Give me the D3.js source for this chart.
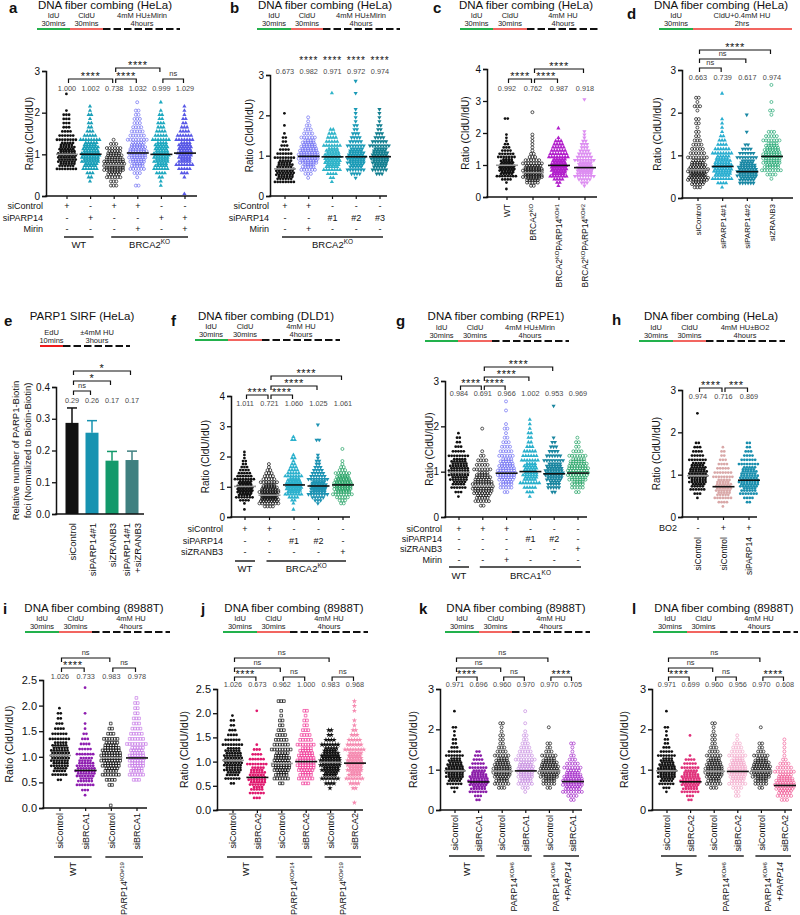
<!DOCTYPE html>
<html><head><meta charset="utf-8">
<script src="https://cdnjs.cloudflare.com/ajax/libs/d3/7.8.5/d3.min.js"></script>
<style>body{margin:0;background:#fff}svg{display:block;font-family:"Liberation Sans",Arial,sans-serif}</style>
</head><body><svg id="fig" width="800" height="915"></svg>
<script>
// ================= DATA =================
const BIN = 0.1; // bin width of the count arrays (ratio units)
// ---- panel a ----
const aMeans = [1.000, 1.002, 0.738, 1.032, 0.999, 1.029];
const aStarts = [0.6, 0.3, 0.2, 0.2, 0.2, 0.0];
const aCounts = [
  [8,12,14,14,13,12,10,8,6,4,3,3,3,3,1,0,0,0,1],
  [1,2,3,6,10,13,14,13,12,10,8,5,3,2,2,1,2,1,1],
  [3,3,6,10,15,16,15,12,10,6,3,1],
  [2,0,1,3,6,9,11,13,14,12,10,8,6,5,4,3,3,2,2,0,1],
  [1,1,2,4,6,9,11,12,11,10,9,7,5,4,3,3,2,2,1,0,1],
  [1,0,0,0,1,3,5,7,9,10,11,10,9,7,6,4,3,2,2,1,1,1]];
const aRowLabels = ["siControl", "siPARP14", "Mirin"];
const aRows = [["+","-","+","+","-","-"],["-","+","-","-","+","+"],["-","-","-","+","-","+"]];
// ---- panel b ----
const bMeans = [0.673, 0.982, 0.971, 0.972, 0.974];
const bStarts = [0.3, 0.4, 0.3, 0.4, 0.5];
const bCounts = [
  [8,12,14,14,12,10,8,6,4,3,2,2,1,0,1,0,0,1],
  [1,3,6,9,13,15,15,13,11,9,6,4,3,2,1,1],
  [1,2,4,7,10,12,12,11,9,7,5,4,3,2,0,0,0,0,0,0,0,0,1],
  [1,4,7,10,13,14,12,10,7,5,4,3,2,2,1,1,1,1,0,0,0,1,0,0,1],
  [3,6,10,12,13,12,10,8,6,4,3,2,2,1,1,1,1]];
const bSig = ["", "****", "****", "****", "****"];
const bRowLabels = ["siControl", "siPARP14", "Mirin"];
const bRows = [["+","+","-","-","-"],["-","-","#1","#2","#3"],["-","+","-","-","-"]];
// ---- panel c ----
const cCategories = ["WT", "BRCA2^KO", "BRCA2^KO^PARP14^KO#1", "BRCA2^KO^PARP14^KO#2"];
const cMeans = [0.992, 0.762, 0.987, 0.918];
const cStarts = [0.2, 0.3, 0.3, 0.3];
const cCounts = [
  [1,0,1,4,8,10,12,12,10,9,7,6,4,3,2,1,1,1,0,0,0,0,2],
  [2,5,10,15,18,15,12,8,6,3,2,1,1,1,1,1,1,0,0,0,0,0,0,1],
  [1,2,4,7,10,12,12,11,10,8,7,6,5,4,3,1,0,0,1],
  [1,3,5,8,11,12,11,10,8,6,5,4,3,3,2,1,1,1,0,0,0,0,0,0,0,0,0,1]];
// ---- panel d ----
const dCategories = ["siControl", "siPARP14#1", "siPARP14#2", "siZRANB3"];
const dMeans = [0.663, 0.739, 0.617, 0.974];
const dStarts = [0.2, 0.2, 0.3, 0.4];
const dCounts = [
  [3,10,16,18,16,12,10,8,6,5,4,3,2,2,1,2,2,0,1,3,1,2],
  [1,4,8,12,14,14,12,10,8,6,4,3,2,1,1,1,1,0,0,0,0,0,1],
  [6,12,15,15,13,10,8,6,4,2,0,0,1,0,0,0,1],
  [1,4,8,11,13,14,13,11,9,7,5,3,0,0,0,1,2,0,1,0,0,0,1]];
// ---- panel e ----
const eCategories = ["siControl", "siPARP14#1", "siZRANB3", "siPARP14#1|+siZRANB3"];
const eValues = [0.287, 0.256, 0.168, 0.170];
const eErrors = [0.047, 0.038, 0.029, 0.028];
const eTicks = [0, 0.1, 0.2, 0.3, 0.4];
// ---- panel f ----
const fMeans = [1.011, 0.721, 1.060, 1.025, 1.061];
const fStarts = [0.2, 0.3, 0.2, 0.4, 0.4];
const fCounts = [
  [1,0,1,4,7,10,12,12,11,10,8,6,5,4,3,2,2,1,1,1],
  [4,8,14,18,18,15,12,9,7,5,4,3,2,1,1],
  [1,0,1,2,4,7,10,12,12,11,9,7,5,4,3,2,1,2,1,0,0,0,0,2,1],
  [1,3,5,8,11,12,12,10,8,6,5,4,3,2,2,1,1,0,0,0,0,2,0,0,0,0,1],
  [2,3,5,8,11,13,14,13,11,9,6,3,2,1,1,0,0,0,1]];
const fRowLabels = ["siControl", "siPARP14", "siZRANB3"];
const fRows = [["+","+","-","-","-"],["-","-","#1","#2","-"],["-","-","-","-","+"]];
// ---- panel g ----
const gMeans = [0.984, 0.691, 0.966, 1.002, 0.953, 0.969];
const gStarts = [0.4, 0.2, 0.5, 0.4, 0.5, 0.5];
const gCounts = [
  [1,3,6,10,13,15,15,13,11,8,5,3,2,2,1],
  [2,6,10,14,16,15,12,9,7,5,4,2,1,0,0,0,0,1],
  [2,5,9,12,14,13,11,9,6,5,4,3,2,1,2,1,0,0,1,0,1],
  [1,3,5,8,10,11,10,9,7,6,5,3,2,2,2,1,1,1],
  [2,5,9,12,14,13,11,8,6,4,3,2,1,0,0,0,0,0,0,1],
  [2,5,9,13,16,16,14,11,7,4,2,2,1]];
const gRowLabels = ["siControl", "siPARP14", "siZRANB3", "Mirin"];
const gRows = [["+","+","+","-","-","-"],["-","-","-","#1","#2","-"],["-","-","-","-","-","+"],["-","-","+","-","-","-"]];
// ---- panel h ----
const hCategories = ["siControl", "siControl", "siPARP14"];
const hMeans = [0.974, 0.716, 0.869];
const hStarts = [0.4, 0.2, 0.3];
const hCounts = [
  [1,3,6,10,13,14,14,12,10,7,5,4,3,2,0,0,0,0,0,0,1],
  [1,4,7,10,12,12,10,8,7,5,4,3,2,2,1],
  [2,4,7,11,14,15,14,12,10,8,6,4,3,2,2]];
const hRowLabels = ["BO2"];
const hRows = [["-","+","+"]];
// ---- panel i ----
const iCategories = ["siControl", "siBRCA1", "siControl", "siBRCA1"];
const iMeans = [1.026, 0.733, 0.983, 0.978];
const iStarts = [0.5, 0.2, 0.0, 0.5];
const iCounts = [
  [2,6,10,13,14,14,13,11,8,6,4,3,2,2,1],
  [1,3,7,11,14,15,13,10,7,5,4,3,2,1,1,0,1,0,0,0,0,1],
  [1,0,0,0,2,4,7,10,13,15,15,13,10,6,3,2,1],
  [3,6,9,11,12,11,10,8,6,5,4,3,3,2,2,2,1]];
// ---- panel j ----
const jCategories = ["siControl", "siBRCA2", "siControl", "siBRCA2", "siControl", "siBRCA2"];
const jMeans = [1.026, 0.673, 0.962, 1.000, 0.983, 0.968];
const jStarts = [0.5, 0.2, 0.5, 0.5, 0.4, 0.1];
const jCounts = [
  [2,6,10,13,14,14,13,11,8,6,4,3,2,2,1],
  [3,6,9,12,13,12,10,8,6,4,3,1,0,0,0,0,0,0,1],
  [2,6,9,12,13,12,10,8,6,5,4,3,2,2,1,1,0,3],
  [3,6,9,12,13,13,11,9,7,5,4,3,2,2,1,2],
  [1,4,7,10,13,15,15,13,10,7,4,2,2],
  [1,0,0,2,4,7,9,11,12,11,10,8,6,5,3,2,1,1,0,1,1,1]];
// ---- panel k ----
const kCategories = ["siControl", "siBRCA1", "siControl", "siBRCA1", "siControl", "siBRCA1"];
const kMeans = [0.971, 0.696, 0.960, 0.970, 0.970, 0.705];
const kStarts = [0.4, 0.2, 0.5, 0.4, 0.5, 0.2];
const kCounts = [
  [1,3,6,10,13,14,13,11,9,7,5,3,2,2,1,1,2,0,0,0,1],
  [2,3,7,11,14,15,13,10,7,5,4,3,2],
  [3,6,9,12,13,13,11,9,6,4,3,2,2,2,1,1,2],
  [1,3,6,9,11,12,12,10,8,6,5,4,3,2,2,1,0,1,0,0,1],
  [2,5,9,13,15,14,12,9,6,3,2,2,0,0,0,1],
  [2,4,8,12,15,15,13,10,7,5,3,2,1,1,2]];
// ---- panel l ----
const lCategories = ["siControl", "siBRCA2", "siControl", "siBRCA2", "siControl", "siBRCA2"];
const lMeans = [0.971, 0.699, 0.960, 0.956, 0.970, 0.608];
const lStarts = [0.4, 0.2, 0.5, 0.3, 0.5, 0.2];
const lCounts = [
  [1,3,6,10,13,14,13,11,9,7,5,3,2,2,1,1,2,0,0,0,1],
  [2,3,7,11,14,15,13,10,7,5,4,1,0,0,0,0,1],
  [3,6,9,12,13,13,11,9,6,4,3,2,2,2,1,1,2],
  [2,2,4,7,10,12,13,13,11,9,7,5,4,3,1,1],
  [2,5,9,13,15,14,12,9,6,3,2,2,0,0,0,1],
  [3,6,10,14,15,13,10,8,6,4,2,1,1,1,1,1]];

// ================= DRAWING =================
const svg = d3.select("#fig");
const INK = "#111";

function rich(sel, str, fs) {
  let sup = false, it = false, buf = "";
  const parts = [];
  for (const ch of str) {
    if (ch === "^" || ch === "_") {
      if (buf) parts.push({t: buf, sup, it});
      buf = "";
      if (ch === "^") sup = !sup; else it = !it;
    } else buf += ch;
  }
  if (buf) parts.push({t: buf, sup, it});
  let cur = false;
  parts.forEach(p => {
    const ts = sel.append("tspan").text(p.t);
    if (p.sup !== cur) { ts.attr("dy", p.sup ? -fs * 0.38 : fs * 0.38); cur = p.sup; }
    if (p.sup) ts.attr("font-size", fs * 0.68);
    if (p.it) ts.attr("font-style", "italic");
  });
}
function text(g, x, y, str, fs, o = {}) {
  const t = g.append("text").attr("x", x).attr("y", y).attr("font-size", fs)
    .attr("text-anchor", o.anchor || "middle").attr("fill", o.fill || INK);
  if (o.rotate) t.attr("transform", `rotate(${o.rotate},${x},${y})`);
  if (o.weight) t.attr("font-weight", o.weight);
  if (o.ls) t.attr("letter-spacing", o.ls);
  rich(t, str, fs);
  return t;
}

const SYM = {
  c: {type: d3.symbolCircle, size: 6, fill: true},
  o: {type: d3.symbolCircle, size: 7, fill: false},
  t: {type: d3.symbolTriangle, size: 7.5, fill: true},
  v: {type: d3.symbolTriangle, size: 7.5, fill: true, rot: 180},
  s: {type: d3.symbolSquare, size: 7, fill: false},
  x: {type: d3.symbolStar, size: 9, fill: true}
};
function swarm(g, cx, y, start, counts, shape, color) {
  const S = SYM[shape];
  const d = d3.symbol().type(S.type).size(S.size)();
  const perRow = 8, sp = 2.7;
  counts.forEach((n, i) => {
    if (!n) return;
    const lo = start + i * BIN;
    const rows = Math.ceil(n / perRow);
    let left = n;
    for (let r = 0; r < rows; r++) {
      const m = Math.ceil(left / (rows - r));
      left -= m;
      const yy = y(lo + BIN * (r + 0.5) / rows);
      for (let k = 0; k < m; k++) {
        const xx = cx + (k - (m - 1) / 2) * sp + (r % 2 ? 0.6 : -0.6);
        g.append("path").attr("d", d)
          .attr("transform", `translate(${xx.toFixed(2)},${yy.toFixed(2)})${S.rot ? " rotate(180)" : ""}`)
          .attr("fill", S.fill ? color : "none")
          .attr("stroke", S.fill ? "none" : color).attr("stroke-width", 0.7);
      }
    }
  });
}
function bracket(g, x1, x2, yb, label) {
  g.append("path").attr("d", `M${x1 + 1.5},${yb + 4}V${yb}H${x2 - 1.5}V${yb + 4}`)
    .attr("fill", "none").attr("stroke", INK).attr("stroke-width", 1.2);
  const mid = (x1 + x2) / 2;
  if (label.startsWith("*")) text(g, mid, yb + 0.5, label, 11, {ls: 0.6});
  else text(g, mid, yb - 3, label, 7.5, {fill: "#333"});
}
function header(H) {
  const g = svg.append("g");
  text(g, H.lx, H.ly, H.letter, 15, {weight: "bold", anchor: "start"});
  text(g, H.tx, H.ty, H.title, 11.5);
  H.segs.forEach(s => {
    g.append("line").attr("x1", s[0]).attr("x2", s[1]).attr("y1", H.sy).attr("y2", H.sy)
      .attr("stroke", s[2]).attr("stroke-width", 2)
      .attr("stroke-dasharray", s[3] ? "7.5,3" : null);
  });
  H.labels.forEach(l => {
    text(g, l[0], H.sy - 11, l[1], 7.5, {fill: "#222"});
    text(g, l[0], H.sy - 3.5, l[2], 7.5, {fill: "#222"});
  });
}
function yAxis(g, P, y) {
  const ax = g.append("g").attr("transform", `translate(${P.axisX},0)`)
    .call(d3.axisLeft(y).tickValues(P.ticks).tickFormat(d3.format(P.fmt)).tickSizeOuter(0).tickSize(4));
  ax.attr("font-size", P.tickFs).attr("font-family", '"Liberation Sans",Arial,sans-serif');
  ax.select(".domain").attr("stroke-width", 1.5).attr("stroke", INK);
  ax.selectAll(".tick line").attr("stroke-width", 1.3).attr("stroke", INK);
  ax.selectAll(".tick text").attr("x", -6).attr("fill", INK);
  g.append("line").attr("x1", P.axisX - 0.75).attr("x2", P.axisEnd).attr("y1", P.y0).attr("y2", P.y0)
    .attr("stroke", INK).attr("stroke-width", 1.5);
  const lines = P.ytitle.split("|");
  lines.forEach((ln, k) => {
    const xx = P.ytx + k * 12 + 3.4;
    text(g, xx, (P.y0 + P.yTop) / 2, ln, P.ytFs || 10, {rotate: -90});
  });
}
function dotPanel(P) {
  header(P.H);
  const g = svg.append("g");
  const y = d3.scaleLinear().domain([0, P.yMax]).range([P.y0, P.yTop]);
  const x = d3.scalePoint().domain(d3.range(P.means.length)).range(P.gx);
  yAxis(g, P, y);
  P.means.forEach((m, i) => {
    g.append("line").attr("x1", x(i)).attr("x2", x(i)).attr("y1", P.y0).attr("y2", P.y0 + 3)
      .attr("stroke", INK).attr("stroke-width", 1.2);
    swarm(g, x(i), y, P.starts[i], P.counts[i], P.shapes[i], P.colors[i]);
  });
  P.means.forEach((m, i) => {
    g.append("line").attr("x1", x(i) - 11).attr("x2", x(i) + 11).attr("y1", y(m)).attr("y2", y(m))
      .attr("stroke", P.colors[i] === INK ? "#9a9a9a" : INK).attr("stroke-width", 1.6);
    text(g, x(i), P.meanY, d3.format(".3f")(m), 7.3, {fill: "#4a4a4a"});
  });
  (P.brackets || []).forEach(b => bracket(g, x(b[0]), x(b[1]), b[2], b[3]));
  (P.sig || []).forEach((s, i) => { if (s) text(g, x(i), P.sigY, s, 10, {ls: 0.8}); });
  if (P.rows) {
    P.rows.forEach((r, k) => {
      const yy = P.rowY[k];
      text(g, P.rowLabelX, yy, P.rowLabels[k], 9, {anchor: "end"});
      r.forEach((v, i) => text(g, x(i), yy, v, 9));
    });
  }
  if (P.groups) {
    P.groups.forEach(gr => {
      const pad = gr[0] === gr[1] ? 10 : 3;
      g.append("line").attr("x1", x(gr[0]) - pad).attr("x2", x(gr[1]) + pad)
        .attr("y1", P.groupLineY).attr("y2", P.groupLineY).attr("stroke", "#222").attr("stroke-width", 1.5);
      text(g, (x(gr[0]) + x(gr[1])) / 2, P.groupLabelY, gr[2], 9.5);
    });
  }
  if (P.xlabels) {
    P.xlabels.forEach((l, i) => text(g, x(i) + P.xlabFs * 0.36, P.xlabTop, l, P.xlabFs, {rotate: -90, anchor: "end"}));
  }
  if (P.vgroups) {
    P.vgroups.forEach(gr => {
      g.append("line").attr("x1", x(gr[0]) - 6).attr("x2", x(gr[1]) + 6)
        .attr("y1", P.vLineY).attr("y2", P.vLineY).attr("stroke", "#222").attr("stroke-width", 1.5);
      const cx = (x(gr[0]) + x(gr[1])) / 2;
      const lines = gr[2].split("|");
      lines.forEach((ln, k) => {
        const xx = cx + (k - (lines.length - 1) / 2) * 12 + 3.3;
        text(g, xx, P.vLabelTop, ln, 9, {rotate: -90, anchor: "end"});
      });
    });
  }
}

// ---- layouts ----
dotPanel({
  H: {letter: "a", lx: 9, ly: 13, title: "DNA fiber combing (HeLa)", tx: 105, ty: 9, sy: 29,
      segs: [[37, 70, "#22b14c"], [70, 103, "#f26560"], [103, 180, INK, 1]],
      labels: [[53.5, "IdU", "30mins"], [86.5, "CldU", "30mins"], [142, "4mM HU±Mirin", "4hours"]]},
  axisX: 46, axisEnd: 197, y0: 196, yTop: 71, yMax: 3, ticks: [0, 1, 2, 3], fmt: "d", tickFs: 10,
  ytitle: "Ratio (CldU/IdU)", ytx: 30, gx: [67, 185],
  means: aMeans, starts: aStarts, counts: aCounts,
  shapes: ["c", "t", "o", "o", "t", "t"], colors: [INK, "#1a9fb8", INK, "#6e6ef2", "#1fa9c0", "#5858e6"],
  meanY: 91, brackets: [[0, 2, 79, "****"], [2, 3, 79, "****"], [2, 4, 68, "****"], [4, 5, 79, "ns"]],
  rows: aRows, rowLabels: aRowLabels, rowY: [209, 221, 232], rowLabelX: 43,
  groups: [[0, 1, "WT"], [2, 5, "BRCA2^KO"]], groupLineY: 237, groupLabelY: 248
});
dotPanel({
  H: {letter: "b", lx: 230, ly: 13, title: "DNA fiber combing (HeLa)", tx: 325, ty: 9, sy: 29,
      segs: [[257, 291, "#22b14c"], [291, 323, "#f26560"], [323, 400, INK, 1]],
      labels: [[274, "IdU", "30mins"], [307, "CldU", "30mins"], [361, "4mM HU±Mirin", "4hours"]]},
  axisX: 270, axisEnd: 387, y0: 196, yTop: 75, yMax: 3, ticks: [0, 1, 2, 3], fmt: "d", tickFs: 10,
  ytitle: "Ratio (CldU/IdU)", ytx: 250, gx: [285, 380],
  means: bMeans, starts: bStarts, counts: bCounts,
  shapes: ["c", "o", "t", "v", "v"], colors: [INK, "#6e6ef2", "#30b4c9", "#1a9ab6", "#137f90"],
  meanY: 74, sig: bSig, sigY: 64,
  rows: bRows, rowLabels: bRowLabels, rowY: [209, 221, 232], rowLabelX: 269,
  groups: [[0, 4, "BRCA2^KO"]], groupLineY: 237, groupLabelY: 248
});
dotPanel({
  H: {letter: "c", lx: 433, ly: 13, title: "DNA fiber combing (HeLa)", tx: 526, ty: 9, sy: 29,
      segs: [[460, 493, "#22b14c"], [493, 527, "#f26560"], [527, 600, INK, 1]],
      labels: [[476.5, "IdU", "30mins"], [510, "CldU", "30mins"], [563, "4mM HU", "4hours"]]},
  axisX: 487, axisEnd: 597, y0: 197, yTop: 69, yMax: 4, ticks: [0, 1, 2, 3, 4], fmt: "d", tickFs: 10,
  ytitle: "Ratio (CldU/IdU)", ytx: 466, gx: [507, 585],
  means: cMeans, starts: cStarts, counts: cCounts,
  shapes: ["c", "o", "t", "v"], colors: [INK, INK, "#b21fcb", "#dd8ef1"],
  meanY: 91, brackets: [[0, 1, 79, "****"], [1, 2, 79, "****"], [1, 3, 69, "****"]],
  xlabels: cCategories, xlabTop: 204, xlabFs: 8.5
});
dotPanel({
  H: {letter: "d", lx: 627, ly: 19, title: "DNA fiber combing (HeLa)", tx: 721, ty: 9, sy: 29,
      segs: [[659, 693, "#22b14c"], [693, 792, "#f26560"]],
      labels: [[676, "IdU", "30mins"], [742, "CldU+0.4mM HU", "2hrs"]]},
  axisX: 682, axisEnd: 793, y0: 198, yTop: 70, yMax: 3, ticks: [0, 1, 2, 3], fmt: "d", tickFs: 10,
  ytitle: "Ratio (CldU/IdU)", ytx: 658, gx: [698, 772],
  means: dMeans, starts: dStarts, counts: dCounts,
  shapes: ["o", "t", "v", "o"], colors: [INK, "#29aed0", "#1a88a4", "#22a872"],
  meanY: 80, brackets: [[0, 1, 68, "ns"], [0, 2, 59, "ns"], [0, 3, 50, "****"]],
  xlabels: dCategories, xlabTop: 204, xlabFs: 8
});

// ---- panel e (bars) ----
(function () {
  header({letter: "e", lx: 4, ly: 326, title: "PARP1 SIRF (HeLa)", tx: 82, ty: 320, sy: 346,
    segs: [[40, 63, "#ee1c1c"], [63, 130, INK, 1]],
    labels: [[51.5, "EdU", "10mins"], [97, "±4mM HU", "3hours"]]});
  const P = {axisX: 56, axisEnd: 144, y0: 514, yTop: 387, ticks: eTicks, fmt: ".1f", tickFs: 10,
    ytitle: "Relative number of PARP1-Biotin|foci (Normalized to Biotin-Biotin)", ytx: 16, ytFs: 9.5};
  const g = svg.append("g");
  const y = d3.scaleLinear().domain([0, 0.4]).range([P.y0, P.yTop]);
  const x = d3.scalePoint().domain(d3.range(eValues.length)).range([72, 132]);
  const cols = [INK, "#1793b1", "#13996b", "#3f8080"];
  const bw = 13;
  eValues.forEach((v, i) => {
    g.append("line").attr("x1", x(i)).attr("x2", x(i)).attr("y1", y(v)).attr("y2", y(v + eErrors[i]))
      .attr("stroke", cols[i]).attr("stroke-width", 1.5);
    g.append("line").attr("x1", x(i) - 5).attr("x2", x(i) + 5).attr("y1", y(v + eErrors[i])).attr("y2", y(v + eErrors[i]))
      .attr("stroke", cols[i]).attr("stroke-width", 1.5);
    g.append("rect").attr("x", x(i) - bw / 2).attr("width", bw).attr("y", y(v)).attr("height", y(0) - y(v))
      .attr("fill", cols[i]);
    text(g, x(i), 403, d3.format(".2f")(v), 7.3, {fill: "#4a4a4a"});
  });
  yAxis(g, P, y);
  [[0, 1, 391, "ns"], [0, 2, 381, "*"], [0, 3, 371, "*"]].forEach(b => bracket(g, x(b[0]), x(b[1]), b[2], b[3]));
  eCategories.forEach((l, i) => {
    const lines = l.split("|");
    lines.forEach((ln, k) => {
      const xx = x(i) + (k - (lines.length - 1) / 2) * 11 + 3.5;
      text(g, xx, 523, ln, 9.5, {rotate: -90, anchor: "end"});
    });
  });
})();

dotPanel({
  H: {letter: "f", lx: 171, ly: 326, title: "DNA fiber combing (DLD1)", tx: 266, ty: 320, sy: 340,
      segs: [[195, 228, "#22b14c"], [228, 262, "#f26560"], [262, 340, INK, 1]],
      labels: [[211, "IdU", "30mins"], [245, "CldU", "30mins"], [301, "4mM HU", "4hours"]]},
  axisX: 231, axisEnd: 350, y0: 517, yTop: 396, yMax: 4, ticks: [0, 1, 2, 3, 4], fmt: "d", tickFs: 10,
  ytitle: "Ratio (CldU/IdU)", ytx: 206, gx: [245, 343],
  means: fMeans, starts: fStarts, counts: fCounts,
  shapes: ["c", "o", "t", "v", "o"], colors: [INK, INK, "#2cb1cd", "#1e93b3", "#1fa062"],
  meanY: 406, brackets: [[0, 1, 395, "****"], [1, 2, 395, "****"], [1, 3, 386, "****"], [1, 4, 376, "****"]],
  rows: fRows, rowLabels: fRowLabels, rowY: [532, 544, 555], rowLabelX: 223,
  groups: [[0, 0, "WT"], [1, 4, "BRCA2^KO"]], groupLineY: 561, groupLabelY: 572
});
dotPanel({
  H: {letter: "g", lx: 396, ly: 326, title: "DNA fiber combing (RPE1)", tx: 496, ty: 320, sy: 341,
      segs: [[425, 458, "#22b14c"], [458, 492, "#f26560"], [492, 569, INK, 1]],
      labels: [[441.5, "IdU", "30mins"], [475, "CldU", "30mins"], [530, "4mM HU±Mirin", "4hours"]]},
  axisX: 445, axisEnd: 587, y0: 517, yTop: 381, yMax: 3, ticks: [0, 1, 2, 3], fmt: "d", tickFs: 10,
  ytitle: "Ratio (CldU/IdU)", ytx: 430, gx: [459, 578],
  means: gMeans, starts: gStarts, counts: gCounts,
  shapes: ["c", "o", "o", "t", "v", "o"], colors: [INK, INK, "#6e6ef2", "#2ab0cc", "#1a86a0", "#20a062"],
  meanY: 396, brackets: [[0, 1, 386, "****"], [1, 2, 386, "****"], [1, 3, 377, "****"], [1, 4, 367, "****"]],
  rows: gRows, rowLabels: gRowLabels, rowY: [532, 542, 552, 563], rowLabelX: 442,
  groups: [[0, 0, "WT"], [1, 5, "BRCA1^KO"]], groupLineY: 567, groupLabelY: 579
});
dotPanel({
  H: {letter: "h", lx: 612, ly: 325, title: "DNA fiber combing (HeLa)", tx: 711, ty: 320, sy: 341,
      segs: [[639, 673, "#22b14c"], [673, 706, "#f26560"], [706, 785, INK, 1]],
      labels: [[656, "IdU", "30mins"], [689.5, "CldU", "30mins"], [745, "4mM HU±BO2", "4hours"]]},
  axisX: 682, axisEnd: 757, y0: 517, yTop: 390, yMax: 3, ticks: [0, 1, 2, 3], fmt: "d", tickFs: 10,
  ytitle: "Ratio (CldU/IdU)", ytx: 657, gx: [698, 749],
  means: hMeans, starts: hStarts, counts: hCounts,
  shapes: ["c", "c", "c"], colors: [INK, "#d9a8a8", "#1a8fae"],
  meanY: 399, brackets: [[0, 1, 388, "****"], [1, 2, 388, "***"]],
  rows: hRows, rowLabels: hRowLabels, rowY: [531], rowLabelX: 677,
  xlabels: hCategories, xlabTop: 537, xlabFs: 8.5
});
const R3 = (letter, lx, tx, x0) => ({letter, lx, ly: 614, title: "DNA fiber combing (8988T)", tx, ty: 612, sy: 632,
  segs: [[x0, x0 + 34, "#22b14c"], [x0 + 34, x0 + 67, "#f26560"], [x0 + 67, x0 + 145, INK, 1]],
  labels: [[x0 + 17, "IdU", "30mins"], [x0 + 50.5, "CldU", "30mins"], [x0 + 106, "4mM HU", "4hours"]]});
dotPanel({
  H: R3("i", 3, 94, 25),
  axisX: 43, axisEnd: 147, y0: 808, yTop: 680, yMax: 2.5, ticks: [0, 0.5, 1, 1.5, 2, 2.5], fmt: ".1f", tickFs: 11,
  ytitle: "Ratio (CldU/IdU)", ytx: 10, ytFs: 10.5, gx: [60, 137],
  means: iMeans, starts: iStarts, counts: iCounts,
  shapes: ["c", "c", "s", "s"], colors: [INK, "#8e1db0", INK, "#c77be6"],
  meanY: 679, brackets: [[0, 1, 668, "****"], [2, 3, 668, "ns"], [0, 2, 658, "ns"]],
  xlabels: iCategories, xlabTop: 813, xlabFs: 9,
  vgroups: [[0, 1, "WT"], [2, 3, "PARP14^KO#19"]], vLineY: 857, vLabelTop: 862
});
dotPanel({
  H: R3("j", 201, 294, 223),
  axisX: 217, axisEnd: 363, y0: 810, yTop: 689, yMax: 2.5, ticks: [0, 0.5, 1, 1.5, 2, 2.5], fmt: ".1f", tickFs: 11,
  ytitle: "Ratio (CldU/IdU)", ytx: 185, ytFs: 10.5, gx: [233, 355],
  means: jMeans, starts: jStarts, counts: jCounts,
  shapes: ["c", "c", "s", "s", "x", "x"], colors: [INK, "#e0186e", INK, "#f03c9a", INK, "#f58ab0"],
  meanY: 687, brackets: [[0, 1, 677, "****"], [2, 3, 677, "ns"], [4, 5, 677, "ns"], [0, 2, 668, "ns"], [0, 4, 658, "ns"]],
  xlabels: jCategories, xlabTop: 813, xlabFs: 9,
  vgroups: [[0, 1, "WT"], [2, 3, "PARP14^KO#14"], [4, 5, "PARP14^KO#19"]], vLineY: 857, vLabelTop: 862
});
dotPanel({
  H: R3("k", 419, 516, 445),
  axisX: 440, axisEnd: 582, y0: 810, yTop: 689, yMax: 3, ticks: [0, 1, 2, 3], fmt: "d", tickFs: 11,
  ytitle: "Ratio (CldU/IdU)", ytx: 414, ytFs: 10.5, gx: [455, 573],
  means: kMeans, starts: kStarts, counts: kCounts,
  shapes: ["c", "c", "o", "o", "o", "o"], colors: [INK, "#8a1ca8", INK, "#c58be0", INK, "#a328c8"],
  meanY: 687, brackets: [[0, 1, 677, "****"], [2, 3, 677, "ns"], [4, 5, 677, "****"], [0, 2, 668, "ns"], [0, 4, 658, "ns"]],
  xlabels: kCategories, xlabTop: 815, xlabFs: 9,
  vgroups: [[0, 1, "WT"], [2, 3, "PARP14^KO#6"], [4, 5, "PARP14^KO#6^|+_PARP14_"]], vLineY: 856, vLabelTop: 862
});
dotPanel({
  H: R3("l", 632, 724, 653),
  axisX: 652, axisEnd: 792, y0: 810, yTop: 689, yMax: 3, ticks: [0, 1, 2, 3], fmt: "d", tickFs: 11,
  ytitle: "Ratio (CldU/IdU)", ytx: 625, ytFs: 10.5, gx: [667, 785],
  means: lMeans, starts: lStarts, counts: lCounts,
  shapes: ["c", "c", "o", "o", "o", "o"], colors: [INK, "#e0307a", INK, "#f2a6c8", INK, "#f0609a"],
  meanY: 687, brackets: [[0, 1, 677, "****"], [2, 3, 677, "ns"], [4, 5, 677, "****"], [0, 2, 668, "ns"], [0, 4, 658, "ns"]],
  xlabels: lCategories, xlabTop: 815, xlabFs: 9,
  vgroups: [[0, 1, "WT"], [2, 3, "PARP14^KO#6"], [4, 5, "PARP14^KO#6^|+_PARP14_"]], vLineY: 856, vLabelTop: 862
});
</script></body></html>
